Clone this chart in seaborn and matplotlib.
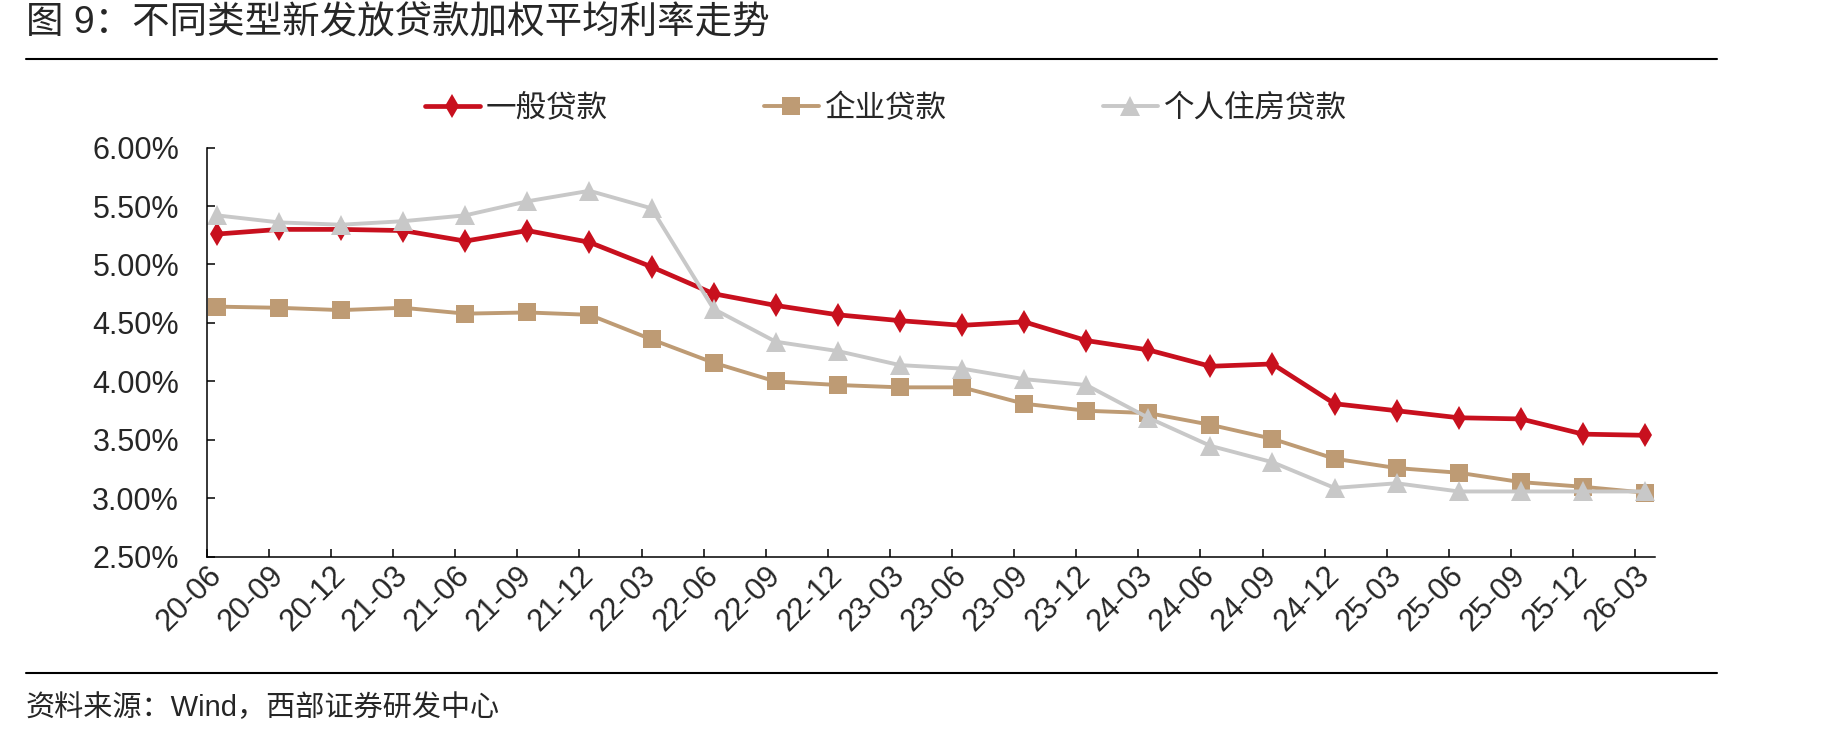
import numpy as np
import seaborn as sns
import matplotlib.pyplot as plt
from matplotlib.lines import Line2D

periods = ['20-06', '20-09', '20-12', '21-03', '21-06', '21-09', '21-12', '22-03',
           '22-06', '22-09', '22-12', '23-03', '23-06', '23-09', '23-12', '24-03',
           '24-06', '24-09', '24-12', '25-03', '25-06', '25-09', '25-12', '26-03']

# 加权平均利率，%
general_loan = [5.26, 5.30, 5.30, 5.29, 5.20, 5.29, 5.19, 4.98, 4.75, 4.65, 4.57, 4.52,
                4.48, 4.51, 4.35, 4.27, 4.13, 4.15, 3.81, 3.75, 3.69, 3.68, 3.55, 3.54]
corporate_loan = [4.64, 4.63, 4.61, 4.63, 4.58, 4.59, 4.57, 4.36, 4.16, 4.00, 3.97, 3.95,
                  3.95, 3.81, 3.75, 3.73, 3.63, 3.51, 3.34, 3.26, 3.22, 3.14, 3.10, 3.05]
mortgage_loan = [5.42, 5.36, 5.34, 5.37, 5.42, 5.54, 5.63, 5.48, 4.62, 4.34, 4.26, 4.14,
                 4.11, 4.02, 3.97, 3.69, 3.45, 3.31, 3.09, 3.13, 3.06, 3.06, 3.06, 3.06]

series_names = ['一般贷款', '企业贷款', '个人住房贷款']
y_ticks = [2.5, 3.0, 3.5, 4.0, 4.5, 5.0, 5.5, 6.0]

sns.set_theme(style='white')
plt.rcParams['font.family'] = ['Liberation Sans', 'Noto Sans CJK SC']

fig = plt.figure(figsize=(18.36, 7.39), dpi=100)
ax = fig.add_axes([0.1127, 0.2463, 0.7887, 0.5541])

x = np.arange(len(periods))
styles = [
    (general_loan, '#C8101E', 'd', 12.5, 3.4),
    (corporate_loan, '#BE9B74', 's', 13, 2.8),
    (mortgage_loan, '#C8C8C8', '^', 14, 2.8),
]
for (vals, col, mk, ms, lw), name in zip(styles, series_names):
    sns.lineplot(x=x, y=vals, ax=ax, color=col, marker=mk, markersize=ms,
                 markeredgewidth=0, linewidth=lw, label=name)

ax.set_xlim(-0.16, len(periods) - 1 + 0.16)
ax.set_ylim(2.5, 6.0)
ax.set_yticks(y_ticks)
ax.set_yticklabels([f'{v:.2f}%' for v in y_ticks], fontsize=22)
ax.set_xticks(x)
ax.set_xticklabels(periods, fontsize=22, rotation=45, ha='right',
                   rotation_mode='anchor', va='center')
ax.set_xticks(x - 0.16, minor=True)
ax.tick_params(axis='x', which='major', length=0, pad=10)
ax.tick_params(axis='x', which='minor', length=6, width=1.1, direction='in',
               color='black', bottom=True)
ax.tick_params(axis='y', length=6, width=1.1, direction='in', color='black',
               left=True, pad=20)
for s in ['top', 'right']:
    ax.spines[s].set_visible(False)
for s in ['left', 'bottom']:
    ax.spines[s].set_color('black')
    ax.spines[s].set_linewidth(1.1)
ax.grid(False)
ax.set_xlabel('')
ax.set_ylabel('')

ax.legend(loc='center', bbox_to_anchor=(886 / 1836, 1 - 109 / 739),
          bbox_transform=fig.transFigure, ncol=3, frameon=False, fontsize=22,
          handlelength=1.8, handletextpad=0.2, columnspacing=5.1)

fig.text(26 / 1836, 1 - 23 / 739, '图 9：不同类型新发放贷款加权平均利率走势',
         fontsize=27, va='center', ha='left')
fig.add_artist(Line2D([26 / 1836, 1717 / 1836], [1 - 58.5 / 739] * 2,
                      color='black', lw=1.5, transform=fig.transFigure))
fig.add_artist(Line2D([26 / 1836, 1717 / 1836], [1 - 673 / 739] * 2,
                      color='black', lw=1.5, transform=fig.transFigure))
fig.text(26 / 1836, 1 - 708 / 739, '资料来源：Wind，西部证券研发中心',
         fontsize=21, va='center', ha='left')

fig.savefig('out.png', dpi=100)
